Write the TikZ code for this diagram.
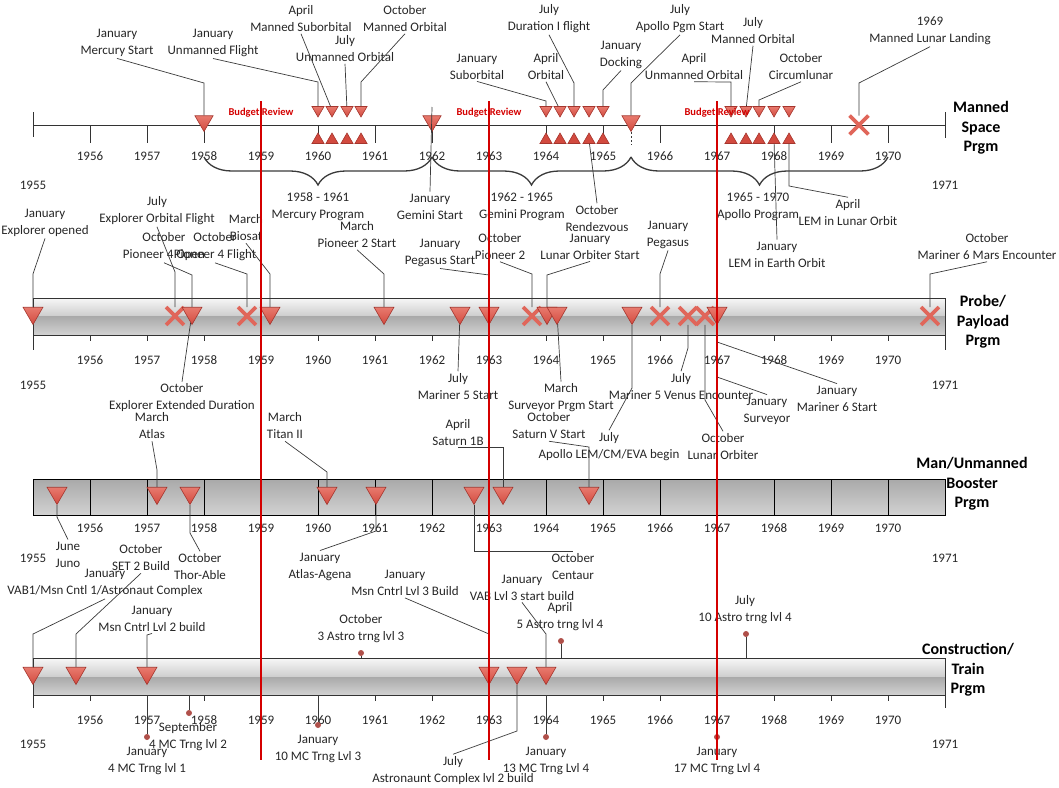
\documentclass[tikz,border=0pt]{standalone}
\usepackage{fontspec}
\setmainfont{Carlito}
\usetikzlibrary{shapes.geometric,shapes.misc,decorations.pathreplacing}
\definecolor{mark}{HTML}{D24A3F}
\definecolor{markhi}{HTML}{E87A6E}
\definecolor{markdk}{HTML}{A5352D}
\definecolor{crossc}{HTML}{E0665A}
\definecolor{leadc}{HTML}{3A3A3A}
\definecolor{revc}{HTML}{D40000}
\definecolor{dotc}{HTML}{B0504A}
\definecolor{barhi}{HTML}{F7F7F7}
\definecolor{barmid}{HTML}{CDCDCD}
\definecolor{barlo}{HTML}{A9A9A9}
\definecolor{barbot}{HTML}{D2D2D2}
\tikzset{
  lbl/.style={align=center,font=\fontsize{13}{17}\selectfont,text=black!85,inner sep=2pt},
  yr/.style={font=\fontsize{13}{15}\selectfont,text=black!85,inner sep=1pt},
  ttl/.style={align=center,font=\fontsize{16}{19.5}\selectfont\bfseries},
  bud/.style={font=\fontsize{10.5}{12}\selectfont\bfseries,text=revc,inner sep=0pt},
  lead/.style={draw=leadc,line width=0.7pt},
  axis/.style={draw=black!80,line width=0.9pt},
  cell/.style={draw=black,line width=0.9pt},
  revline/.style={draw=revc,line width=1.1pt},
  tdn/.style={regular polygon,regular polygon sides=3,shape border rotate=180,
    minimum size=23pt,inner sep=0pt,top color=markhi,bottom color=mark,
    draw=markdk,line width=0.6pt},
  sdn/.style={tdn,minimum size=14pt},
  tup/.style={regular polygon,regular polygon sides=3,minimum size=14pt,
    inner sep=0pt,fill=mark,draw=markdk,line width=0.6pt},
  xm/.style={cross out,draw=crossc,line width=3.8pt,minimum size=14pt,inner sep=0pt},
  lolly/.style={circle,fill=dotc,minimum size=6pt,inner sep=0pt},
  brc/.style={draw=leadc,line width=1.3pt,decorate,
    decoration={brace,mirror,amplitude=28pt}},
}

\begin{document}
\begin{tikzpicture}[x=1pt,y=-1pt]
\useasboundingbox (0,0) rectangle (1059,787);

% bars and axis
\draw[axis] (33,125) -- (945,125) (33,112) -- (33,137) (945,112) -- (945,138);
\shade[top color=barhi,bottom color=barmid] (33,298) rectangle (945,316);
\shade[top color=barlo,bottom color=barbot] (33,316) rectangle (945,335);
\draw[axis,line width=0.7pt] (33,298) rectangle (945,335);
\draw[axis] (33,335) -- (33,350) (945,335) -- (945,350);
\shade[top color=barlo,bottom color=barbot] (33,479) rectangle (945,515);
\draw[cell] (33,479) rectangle (945,515);
\shade[top color=barhi,bottom color=barmid] (33,658) rectangle (945,677);
\shade[top color=barlo,bottom color=barbot] (33,677) rectangle (945,695);
\draw[axis,line width=0.7pt] (33,658) rectangle (945,695);
\draw[axis] (33,695) -- (33,708) (945,695) -- (945,708);

% years
\foreach \n in {1,...,15}{
  \pgfmathtruncatemacro\yr{1955+\n}
  \pgfmathsetmacro\xx{33+57*\n}
  \draw[axis] (\xx,125) -- (\xx,143) (\xx,335) -- (\xx,341) (\xx,695) -- (\xx,701);
  \draw[cell] (\xx,479) -- (\xx,515);
  \node[yr] (ya\yr) at (\xx,156) {\yr};
  \node[yr] (yb\yr) at (\xx,360) {\yr};
  \node[yr] (yc\yr) at (\xx,528) {\yr};
  \node[yr] (yd\yr) at (\xx,720) {\yr};
}
\node[yr] (ya1955) at (33,185) {1955};
\node[yr] (ya1971) at (945,185) {1971};
\node[yr] (yb1955) at (33,385) {1955};
\node[yr] (yb1971) at (945,385) {1971};
\node[yr] (yc1955) at (33,558) {1955};
\node[yr] (yc1971) at (945,558) {1971};
\node[yr] (yd1955) at (33,744) {1955};
\node[yr] (yd1971) at (945,744) {1971};

% manned space markers
\node[tdn,minimum size=21pt] (m1a) at (204,121) {};
\node[tdn,minimum size=21pt] (m1b) at (432,121) {};
\node[tdn,minimum size=21pt] (m1c) at (631,121) {};
\node[xm,minimum size=15pt] (x1) at (859,125) {};
\foreach \xx [count=\i] in {318,332,347,361,546,560,574,589,603,731,746,759,774,789}{
  \node[sdn] (d\i) at (\xx,110) {};
  \node[tup] (u\i) at (\xx,140) {};
}

% probe markers
\node[tdn] (p1) at (33,313) {};
\node[xm] (p2) at (175,316) {};
\node[tdn] (p3) at (192,313) {};
\node[xm] (p4) at (247,316) {};
\node[tdn] (p5) at (270,313) {};
\node[tdn] (p6) at (384,313) {};
\node[tdn] (p7) at (460,313) {};
\node[tdn] (p8) at (489,313) {};
\node[xm] (p9) at (532,316) {};
\node[tdn] (p10) at (547,313) {};
\node[tdn] (p11) at (557,313) {};
\node[tdn] (p12) at (632,313) {};
\node[xm] (p13) at (660,316) {};
\node[xm] (p14) at (688,316) {};
\node[xm] (p15) at (705,316) {};
\node[tdn] (p16) at (717,313) {};
\node[xm] (p17) at (930,316) {};

% booster markers
\foreach \xx [count=\i] in {57,157,190,327,376,474,503,589}
  \node[tdn] (b\i) at (\xx,493) {};

% construction markers
\foreach \xx [count=\i] in {33,76,147,489,517,546}
  \node[tdn] (c\i) at (\xx,673) {};
\node[lolly] (o1) at (147,737) {};
\node[lolly] (o2) at (189,713) {};
\node[lolly] (o3) at (318,725) {};
\node[lolly] (o4) at (361,653) {};
\node[lolly] (o5) at (546,737) {};
\node[lolly] (o6) at (561,641) {};
\node[lolly] (o7) at (717,737) {};
\node[lolly] (o8) at (746,634) {};

% manned space labels
\node[lbl] (lmerc) at (117,42.5) {January\\Mercury Start};
\node[lbl] (lunf) at (213,42.5) {January\\Unmanned Flight};
\node[lbl] (lmsub) at (301,18.5) {April\\Manned Suborbital};
\node[lbl] (luno1) at (345,48.5) {July\\Unmanned Orbital};
\node[lbl] (lmorb1) at (405,18.5) {October\\Manned Orbital};
\node[lbl] (lgem) at (430,206.5) {January\\Gemini Start};
\node[lbl] (lsub) at (477,66.5) {January\\Suborbital};
\node[lbl] (lorb) at (546,66.5) {April\\Orbital};
\node[lbl] (ldur) at (549,18.5) {July\\Duration I flight};
\node[lbl] (ldock) at (621,54.5) {January\\Docking};
\node[lbl] (lrdv) at (597,218.5) {October\\Rendezvous};
\node[lbl] (lapo) at (680,18.5) {July\\Apollo Pgm Start};
\node[lbl] (luno2) at (694,66.5) {April\\Unmanned Orbital};
\node[lbl] (lmorb2) at (753,30.5) {July\\Manned Orbital};
\node[lbl] (lcirc) at (801,66.5) {October\\Circumlunar};
\node[lbl] (llunar) at (848,212.5) {April\\LEM in Lunar Orbit};
\node[lbl] (learth) at (777,254.5) {January\\LEM in Earth Orbit};
\node[lbl] (lland) at (930,30.5) {1969\\Manned Lunar Landing};
\node[lbl] (pmerc) at (318,206.5) {1958 - 1961\\Mercury Program};
\node[lbl] (pgem) at (522,206.5) {1962 - 1965\\Gemini Program};
\node[lbl] (papo) at (758,206.5) {1965 - 1970\\Apollo Program};
\node[ttl] (tman) at (981,128) {Manned\\Space\\Prgm};

% probe labels
\node[lbl] (lexo) at (45,222.5) {January\\Explorer opened};
\node[lbl] (lexf) at (157,210.5) {July\\Explorer Orbital Flight};
\node[lbl] (lp4o) at (164,246.5) {October\\Pioneer 4 Open};
\node[lbl] (lp4f) at (215,246.5) {October\\Pioneer 4 Flight};
\node[lbl] (lbio) at (246,228) {March\\Biosat};
\node[lbl] (lp2s) at (357,234.5) {March\\Pioneer 2 Start};
\node[lbl] (lpegs) at (440,252.5) {January\\Pegasus Start};
\node[lbl] (lp2) at (500,246.5) {October\\Pioneer 2};
\node[lbl] (llos) at (590,246.5) {January\\Lunar Orbiter Start};
\node[lbl] (lpeg) at (668,234.5) {January\\Pegasus};
\node[lbl] (lm6m) at (987,246.5) {October\\Mariner 6 Mars Encounter};
\node[lbl] (lexd) at (182,398) {October\\Explorer Extended Duration};
\node[lbl] (lm5s) at (458,386.5) {July\\Mariner 5 Start};
\node[lbl] (lsps) at (561,398) {March\\Surveyor Prgm Start};
\node[lbl] (llem) at (609,446.5) {July\\Apollo LEM/CM/EVA begin};
\node[lbl] (lm5v) at (681,386.5) {July\\Mariner 5 Venus Encounter};
\node[lbl] (llo) at (723,446.5) {October\\Lunar Orbiter};
\node[lbl] (lsurv) at (767,410.5) {January\\Surveyor};
\node[lbl] (lm6s) at (837,398.5) {January\\Mariner 6 Start};
\node[ttl] (tprobe) at (983,322) {Probe/\\Payload\\Prgm};

% booster labels
\node[lbl] (ljuno) at (68,554.5) {June\\Juno};
\node[lbl] (latl) at (152,426) {March\\Atlas};
\node[lbl] (lthor) at (200,566.5) {October\\Thor-Able};
\node[lbl] (ltit) at (285,426) {March\\Titan II};
\node[lbl] (lagena) at (320,566.5) {January\\Atlas-Agena};
\node[lbl] (lcent) at (573,566.5) {October\\Centaur};
\node[lbl] (lsat1) at (458,432.5) {April\\Saturn 1B};
\node[lbl] (lsat5) at (549,426) {October\\Saturn V Start};
\node[ttl] (tboost) at (972,484) {Man/Unmanned\\Booster\\Prgm};

% construction labels
\node[lbl] (lvab1) at (105,583) {January\\VAB1/Msn Cntl 1/Astronaut Complex};
\node[lbl] (lset) at (141,558) {October\\SET 2 Build};
\node[lbl] (lmc2) at (152,618.5) {January\\Msn Cntrl Lvl 2 build};
\node[lbl] (lt1) at (147,760.5) {January\\4 MC Trng lvl 1};
\node[lbl] (lt2) at (188,736.5) {September\\4 MC Trng lvl 2};
\node[lbl] (lt3) at (318,748.5) {January\\10 MC Trng Lvl 3};
\node[lbl] (la3) at (361,628.5) {October\\3 Astro trng lvl 3};
\node[lbl] (lmc3) at (405,583) {January\\Msn Cntrl Lvl 3 Build};
\node[lbl] (lac2) at (453,770.5) {July\\Astronaunt Complex lvl 2 build};
\node[lbl] (lvab3) at (522,587.5) {January\\VAB Lvl 3 start build};
\node[lbl] (la4) at (560,616.5) {April\\5 Astro trng lvl 4};
\node[lbl] (lt4) at (546,760.5) {January\\13 MC Trng Lvl 4};
\node[lbl] (lt5) at (717,760.5) {January\\17 MC Trng Lvl 4};
\node[lbl] (la5) at (745,609.5) {July\\10 Astro trng lvl 4};
\node[ttl] (tcons) at (968,670) {Construction/\\Train\\Prgm};

% leaders
\draw[lead] (lmerc.south) -- (m1a |- 0,83) -- (m1a);
\draw[lead] (lunf.south) -- (d1 |- 0,82) -- (d1);
\draw[lead] (lmsub.south) -- (d2);
\draw[lead] (luno1.south) -- (d3);
\draw[lead] (lmorb1.south) -- (d4 |- 0,82) -- (d4);
\draw[lead] (m1b |- 0,107) -- (lgem.north);
\draw[lead] (lsub.south) -- (d5 |- 0,101) -- (d5);
\draw[lead] (lorb.south) -- (d6);
\draw[lead] (ldur.south) -- (d7 |- 0,83) -- (d7);
\draw[lead] (ldock.south) -- (d9 |- 0,90) -- (d9);
\draw[lead] (u8) -- (lrdv.north);
\draw[lead] (lapo.south) -- (m1c |- 0,83) -- (m1c);
\draw[lead,dash pattern=on 2pt off 2pt] (m1c) -- (m1c |- 0,145);
\draw[lead] (luno2.south) -- (d10 |- 0,82) -- (d10);
\draw[lead] (lmorb2.south) -- (d11);
\draw[lead] (lcirc.south) -- (d12 |- 0,100) -- (d12);
\draw[lead] (u14) -- (u14 |- 0,186) -- (llunar.north);
\draw[lead] (u13) -- (learth.north);
\draw[lead] (lland.south) -- (x1 |- 0,83) -- (x1);

\draw[lead] (lexo.south) -- (p1 |- 0,274) -- (p1);
\draw[lead] (lexf.south) -- (p2 |- 0,272) -- (p2);
\draw[lead] (lp4o.south) -- (p3 |- 0,275) -- (p3);
\draw[lead] (lp4f.south) -- (p4 |- 0,274) -- (p4);
\draw[lead] (lbio.south) -- (p5 |- 0,274) -- (p5);
\draw[lead] (lp2s.south) -- (p6 |- 0,274) -- (p6);
\draw[lead] (lpegs.south) -- (p8 |- 0,275) -- (p8);
\draw[lead] (lp2.south) -- (p9 |- 0,274) -- (p9);
\draw[lead] (llos.south) -- (p10 |- 0,275) -- (p10);
\draw[lead] (lpeg.south) -- (p13 |- 0,274) -- (p13);
\draw[lead] (lm6m.south) -- (p17 |- 0,274) -- (p17);
\draw[lead] (p3) -- (lexd.north);
\draw[lead] (p7) -- (lm5s.north);
\draw[lead] (p11) -- (lsps.north);
\draw[lead] (p12) -- (p12 |- 0,388) -- (llem.north);
\draw[lead] (p14) -- (p14 |- 0,348) -- (lm5v.north);
\draw[lead] (p15) -- (p15 |- 0,400) -- (llo.north);
\draw[lead] (p16) -- (p16 |- 0,377) -- (lsurv.north);
\draw[lead] (p16 |- 0,342) -- (lm6s.north);

\draw[lead] (b1) -- (b1 |- 0,517) -- (ljuno.north);
\draw[lead] (latl.south) -- (b2 |- 0,470) -- (b2);
\draw[lead] (b3) -- (b3 |- 0,533) -- (lthor.north);
\draw[lead] (ltit.south) -- (b4 |- 0,472) -- (b4);
\draw[lead] (b5) -- (b5 |- 0,531) -- (lagena.north);
\draw[lead] (b6) |- (lcent.north);
\draw[lead] (lsat1.south) -| (b7);
\draw[lead] (lsat5.south) -- (b8 |- 0,447) -- (b8);

\draw[lead] (lvab1.south) -- (c1 |- 0,634) -- (c1);
\draw[lead] (lset.south) -- (c2 |- 0,634) -- (c2);
\draw[lead] (lmc2.south) -- (c3 |- 0,635) -- (c3);
\draw[lead] (lmc3.south) -- (c4 |- 0,634) -- (c4);
\draw[lead] (c5) -- (c5 |- 0,731) -- (lac2.north);
\draw[lead] (lvab3.south) -- (c6 |- 0,634) -- (c6);
\foreach \o in {o1,o2,o3,o5,o7} \draw[lead] (\o) -- (\o |- 0,695);
\foreach \o in {o4,o6,o8} \draw[lead] (\o) -- (\o |- 0,658);

% program braces
\draw[brc] (m1a |- 0,157) -- (m1b |- 0,157);
\draw[brc] (m1b |- 0,157) -- (m1c |- 0,157);
\draw[brc] (m1c |- 0,157) -- (888,157);

% budget reviews
\node[bud] (br1) at (261,113) {Budget Review};
\node[bud] (br2) at (489,113) {Budget Review};
\node[bud] (br3) at (717,113) {Budget Review};
\foreach \xx in {261,489,717} \draw[revline] (\xx,101) -- (\xx,760);
\end{tikzpicture}
\end{document}
